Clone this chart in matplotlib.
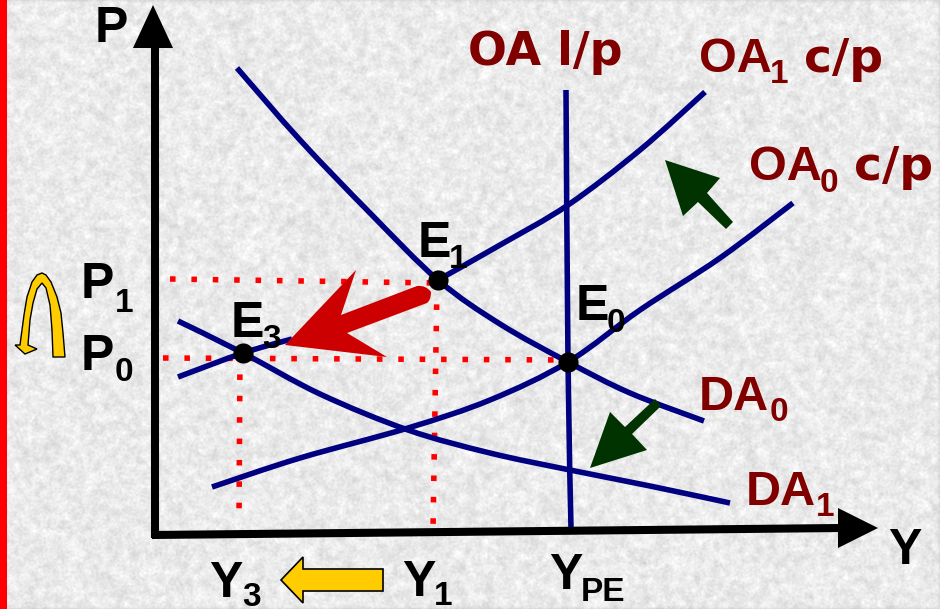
"""
Oferta y demanda agregadas - diagrama con desplazamiento de curvas
Todo esta en coordenadas de pixel de la imagen (940x609)
"""
import matplotlib
matplotlib.use('Agg')
import matplotlib.pyplot as plt
from matplotlib.patches import Polygon, PathPatch, Rectangle
from matplotlib.path import Path
import numpy as np

plt.rcParams['font.family'] = ['Liberation Sans', 'DejaVu Sans']

NAVY = '#000080'
WINE = '#800000'
RED = '#ff0000'
DARK_RED = '#cc0000'
GREEN = '#003300'
YELLOW = '#ffcc00'

da0_x = [237, 300, 370, 438, 500, 568, 630, 704]
da0_y = [68, 140, 213, 280, 324, 362, 393, 421]
da1_x = [178, 243, 320, 408, 490, 570, 650, 730]
da1_y = [321, 353, 394, 430, 453, 470, 486, 503]
oa0_x = [212, 300, 408, 490, 568, 640, 720, 793]
oa0_y = [487, 458, 428, 400, 362, 310, 258, 203]
oa1_x = [438, 500, 568, 640, 705]
oa1_y = [280, 245, 205, 150, 92]
oa3_x = [178, 243, 292]
oa3_y = [377, 353, 339]
oalp_x = [566, 568, 571]
oalp_y = [90, 362, 528]

# Equilibrios
eq_x = [438, 568, 243]
eq_y = [280, 362, 353]

# Guias punteadas: (x0, y0, x1, y1)
guide_p1 = [170, 279, 437, 283]
guide_p0 = [163, 358, 568, 360]
guide_y1 = [437, 283, 433, 530]
guide_y3 = [240, 353, 239, 522]

fig = plt.figure(figsize=(9.4, 6.09), dpi=100)
ax = fig.add_axes([0, 0, 1, 1])
ax.set_xlim(0, 940)
ax.set_ylim(609, 0)
ax.axis('off')


def grain(step, kernel):
    # pseudo ruido determinista, solo para la textura del fondo
    yy, xx = np.mgrid[0:609, 0:940]
    t = np.sin((xx // step) * 12.9898 + (yy // step) * 78.233) * 43758.5453
    t = t - np.floor(t)
    t = np.apply_along_axis(lambda r: np.convolve(r, kernel, mode='same'), 0, t)
    t = np.apply_along_axis(lambda r: np.convolve(r, kernel, mode='same'), 1, t)
    return (t - t.mean()) / t.std()


fine = grain(1, np.array([1, 2, 1]) / 4.0)
coarse = grain(3, np.ones(7) / 7.0)
ax.imshow(234 + fine * 4 + coarse * 5, cmap='gray', vmin=0, vmax=255,
          extent=(0, 940, 609, 0), aspect='auto', zorder=0)
ax.add_patch(Rectangle((0, 0), 7, 609, facecolor=RED, edgecolor='none', zorder=1))

# Guias
for g in [guide_p1, guide_p0, guide_y1, guide_y3]:
    ax.plot([g[0], g[2]], [g[1], g[3]], color=RED, lw=4.0,
            linestyle=(0, (1, 2.85)), dash_capstyle='butt', zorder=2)


def smooth_curve(cx, cy):
    # Bezier que pasa por los puntos leidos (Catmull-Rom)
    pts = np.column_stack([cx, cy]).astype(float)
    verts = [pts[0]]
    codes = [Path.MOVETO]
    for i in range(len(pts) - 1):
        p0 = pts[max(i - 1, 0)]
        p1 = pts[i]
        p2 = pts[i + 1]
        p3 = pts[min(i + 2, len(pts) - 1)]
        verts += [p1 + (p2 - p0) / 6, p2 - (p3 - p1) / 6, p2]
        codes += [Path.CURVE4, Path.CURVE4, Path.CURVE4]
    return Path(verts, codes)


# Curvas
for cx, cy in [(da0_x, da0_y), (da1_x, da1_y), (oa0_x, oa0_y), (oa1_x, oa1_y),
               (oa3_x, oa3_y), (oalp_x, oalp_y)]:
    ax.add_patch(PathPatch(smooth_curve(cx, cy), facecolor='none', edgecolor=NAVY,
                           lw=4.0, capstyle='butt', zorder=3))

# Ejes
ax.plot([155, 155], [40, 538], color='black', lw=5.8, solid_capstyle='butt', zorder=4)
ax.plot([152, 842], [535, 528], color='black', lw=5.8, solid_capstyle='butt', zorder=4)
ax.add_patch(Polygon([(153, 5), (133, 48), (173, 48)], facecolor='black', zorder=4))
ax.add_patch(Polygon([(878, 528), (838, 508), (838, 548)], facecolor='black', zorder=4))

# Flechas
red_verts = [(285, 345), (356, 270), (341, 315), (417, 286), (426, 285), (431, 292),
             (431, 300), (427, 303), (347, 333), (387, 357), (285, 345)]
red_codes = [Path.MOVETO, Path.LINETO, Path.LINETO, Path.LINETO, Path.CURVE3, Path.CURVE3,
             Path.CURVE3, Path.CURVE3, Path.LINETO, Path.LINETO, Path.CLOSEPOLY]
ax.add_patch(PathPatch(Path(red_verts, red_codes), facecolor=DARK_RED, edgecolor='none', zorder=5))
ax.add_patch(Polygon([(665, 160), (720, 178), (707, 193), (733, 222), (726, 229),
                      (698, 202), (683, 216)], facecolor=GREEN, edgecolor='none', zorder=5))
ax.add_patch(Polygon([(590, 468), (610, 412), (625, 427), (655, 399), (661, 406),
                      (632, 434), (647, 450)], facecolor=GREEN, edgecolor='none', zorder=5))
ax.add_patch(Polygon([(281, 580), (303, 557), (303, 569), (383, 569), (383, 591),
                      (303, 591), (303, 603)], facecolor=YELLOW, edgecolor='black',
                     lw=1.2, zorder=5))

# Flecha curva amarilla
ax.add_patch(Polygon([(65, 357), (63, 333), (61, 313), (57, 297), (51, 282), (46, 275),
                      (42, 273), (37, 275), (32, 282), (27, 297), (24, 315), (20, 345),
                      (15, 345), (25, 354), (37, 349), (28, 345), (30, 320), (33, 303),
                      (37, 289), (42, 283), (46, 288), (50, 305), (52, 330), (53, 357)],
                     facecolor=YELLOW, edgecolor='black', lw=1.0, zorder=5))

# Puntos de equilibrio
ax.plot(eq_x, eq_y, 'o', color='black', markersize=14.5, markeredgewidth=0, zorder=6)


def label(x, y, s, color='black', size=36, family=None):
    ax.text(x, y, s, fontsize=size, fontweight='bold', color=color,
            ha='left', va='baseline', zorder=7,
            family=family if family else ['Liberation Sans', 'DejaVu Sans'])


# Textos negros
label(95, 42, 'P')
label(888, 564, 'Y')
label(81, 298, 'P')
label(115, 312, '1', size=24)
label(81, 370, 'P')
label(115, 381, '0', size=24)
label(418, 257, 'E')
label(449, 268, '1', size=24)
label(576, 320, 'E')
label(607, 332, '0', size=24)
label(231, 337, 'E')
label(262, 348, '3', size=24)
label(209, 597, 'Y')
label(242, 606, '3', size=24)
label(402, 596, 'Y')
label(434, 605, '1', size=24)
label(549, 589, 'Y')
label(581, 601, 'PE', size=24)

# Textos de curvas
label(468, 65, 'OA l/p', WINE, size=33, family='DejaVu Sans')
label(699, 72, 'OA', WINE, size=35)
label(770, 83, '1', WINE, size=24)
label(804, 72, 'c/p', WINE, size=34, family='DejaVu Sans')
label(749, 180, 'OA', WINE, size=35)
label(820, 192, '0', WINE, size=24)
label(854, 180, 'c/p', WINE, size=34, family='DejaVu Sans')
label(699, 410, 'DA', WINE, size=35)
label(770, 421, '0', WINE, size=24)
label(746, 505, 'DA', WINE, size=35)
label(816, 516, '1', WINE, size=24)

fig.savefig('out.png', dpi=100)
